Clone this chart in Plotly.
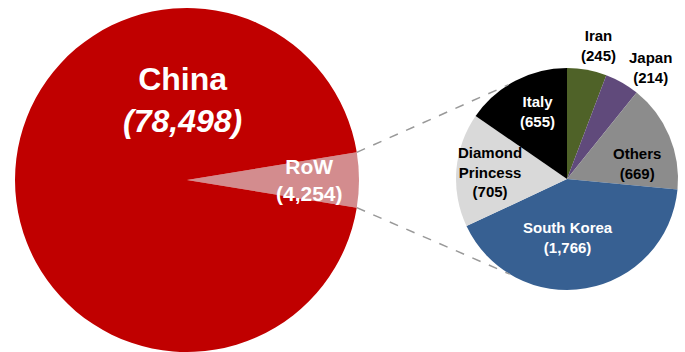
import math
import plotly.graph_objects as go

# Confirmed cases: China vs rest of world, and the rest-of-world breakdown
main_labels = ["RoW", "China"]
main_values = [4254, 78498]

row_labels = ["Iran", "Japan", "Others", "South Korea", "Diamond Princess", "Italy"]
row_values = [245, 214, 669, 1766, 705, 655]

W, H = 685, 352

main_colors = ["#D38C8E", "#C00000"]
row_colors = ["#4F6228", "#604A7B", "#8C8C8C", "#376092", "#D9D9D9", "#000000"]

# pie geometry in pixels (center x, center y from top, radius)
BIG = (187, 180, 172)
SMALL = (567, 179, 111)


def domain(cx, cy, r):
    return dict(x=[(cx - r) / W, (cx + r) / W],
                y=[1 - (cy + r) / H, 1 - (cy - r) / H])


def px(x, y):
    return x / W, 1 - y / H


row_share = main_values[0] / sum(main_values)
row_sweep = 360 * row_share

fig = go.Figure()
fig.add_trace(go.Pie(
    labels=main_labels, values=main_values, sort=False,
    direction="clockwise", rotation=90 - row_sweep / 2,
    marker=dict(colors=main_colors, line=dict(width=0)),
    textinfo="none", hoverinfo="skip", showlegend=False,
    domain=domain(*BIG),
))
fig.add_trace(go.Pie(
    labels=row_labels, values=row_values, sort=False,
    direction="clockwise", rotation=0,
    marker=dict(colors=row_colors, line=dict(width=0)),
    textinfo="none", hoverinfo="skip", showlegend=False,
    domain=domain(*SMALL),
))

FONT = "Arial, 'Liberation Sans', sans-serif"

# label anchors (pixels) and styles
main_label_pos = {"China": (183, 100), "RoW": (309, 180)}
row_label_pos = {
    "Iran": (598, 46), "Japan": (650, 68), "Others": (637, 163),
    "South Korea": (568, 237), "Diamond Princess": (490, 172), "Italy": (537, 111),
}
row_label_color = {
    "Iran": "black", "Japan": "black", "Others": "black",
    "South Korea": "white", "Diamond Princess": "black", "Italy": "white",
}

annotations = []
for lab, val in zip(main_labels, main_values):
    x, y = px(*main_label_pos[lab])
    if lab == "China":
        text = f"<b>{lab}</b><br><b><i>({val:,})</i></b>"
        size = 32
    else:
        text = f"<b>{lab}<br>({val:,})</b>"
        size = 21
    annotations.append(dict(x=x, y=y, xref="paper", yref="paper", text=text,
                            showarrow=False, align="center",
                            xanchor="center", yanchor="middle",
                            font=dict(family=FONT, size=size, color="white")))

for lab, val in zip(row_labels, row_values):
    x, y = px(*row_label_pos[lab])
    name = lab.replace(" Princess", "<br>Princess")
    annotations.append(dict(x=x, y=y, xref="paper", yref="paper",
                            text=f"<b>{name}<br>({val:,})</b>",
                            showarrow=False, align="center",
                            xanchor="center", yanchor="middle",
                            font=dict(family=FONT, size=15, color=row_label_color[lab])))

# dashed connectors from the RoW wedge edges to the breakdown pie rim
shapes = []
bcx, bcy, br = BIG
scx, scy, sr = SMALL
half = math.radians(row_sweep / 2)
for sign, ang in ((-1, 122), (1, 239)):
    x0 = bcx + br * math.cos(half)
    y0 = bcy + sign * br * math.sin(half)
    a = math.radians(ang)
    x1 = scx + sr * math.cos(a)
    y1 = scy - sr * math.sin(a)
    p0, p1 = px(x0, y0), px(x1, y1)
    shapes.append(dict(type="line", xref="paper", yref="paper",
                       x0=p0[0], y0=p0[1], x1=p1[0], y1=p1[1],
                       line=dict(color="#999999", width=1.5, dash="dash")))

fig.update_layout(
    width=W, height=H, margin=dict(l=0, r=0, t=0, b=0),
    paper_bgcolor="white", plot_bgcolor="white",
    annotations=annotations, shapes=shapes, showlegend=False,
)

fig.write_html("out.html")
